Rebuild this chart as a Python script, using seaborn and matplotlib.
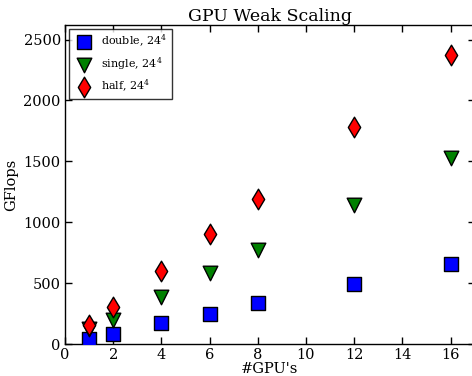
import matplotlib
matplotlib.use("Agg")
import matplotlib.pyplot as plt
import seaborn as sns
import pandas as pd

# data
gpus = [1, 2, 4, 6, 8, 12, 16]
double_gflops = [40, 85, 170, 250, 335, 495, 655]
single_gflops = [120, 200, 390, 580, 770, 1140, 1525]
half_gflops = [160, 300, 600, 900, 1195, 1785, 2375]

labels = [r"double, $24^4$", r"single, $24^4$", r"half, $24^4$"]
markers = ["s", "v", "d"]
colors = ["blue", "green", "red"]
x_ticks = [0, 2, 4, 6, 8, 10, 12, 14, 16]
y_ticks = [0, 500, 1000, 1500, 2000, 2500]

sns.set_style("ticks", {"text.color": "black", "axes.labelcolor": "black",
                        "xtick.color": "black", "ytick.color": "black",
                        "axes.edgecolor": "black"})
plt.rcParams["font.family"] = ["DejaVu Serif"]
plt.rcParams["mathtext.fontset"] = "dejavuserif"
plt.rcParams["xtick.direction"] = "in"
plt.rcParams["ytick.direction"] = "in"

df = pd.DataFrame({"gpus": gpus, "double": double_gflops,
                   "single": single_gflops, "half": half_gflops})

fig = plt.figure(figsize=(4.72, 3.76), dpi=100)
ax = fig.add_axes([0.1377, 0.0851, 0.868, 0.8484])

for col, lab, m, c in zip(["double", "single", "half"], labels, markers, colors):
    sns.scatterplot(data=df, x="gpus", y=col, marker=m, color=c, edgecolor="black",
                    linewidth=1, s=110 if m != "s" else 100, label=lab, ax=ax, zorder=3)

ax.set_xlim(0, 17)
ax.set_ylim(0, 2620)
ax.set_xticks(x_ticks)
ax.set_yticks(y_ticks)
ax.tick_params(top=True, right=True, labelsize=10.5, length=5, width=1, pad=3)
for s in ax.spines.values():
    s.set_linewidth(1)
ax.set_xlabel("#GPU's", fontsize=10.5, labelpad=0)
ax.set_ylabel("GFlops", fontsize=10.5, labelpad=4)
ax.set_title("GPU Weak Scaling", fontsize=12.5, pad=3)
leg = ax.legend(loc="upper left", fontsize=8, frameon=True, fancybox=False,
                edgecolor="black", borderaxespad=0.35, handletextpad=0.5,
                labelspacing=0.55, borderpad=0.4)
leg.get_frame().set_linewidth(1)

fig.savefig("out.png", dpi=100)
